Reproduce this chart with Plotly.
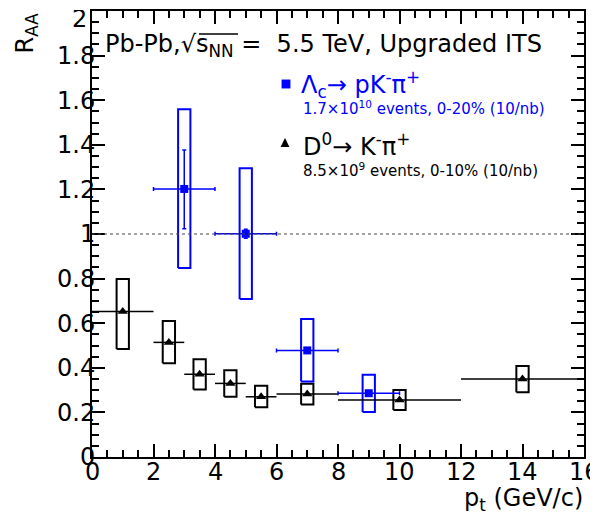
import plotly.graph_objects as go

# ---- data ----
d0_pt = [1, 2.5, 3.5, 4.5, 5.5, 7, 10, 14]
d0_pt_err = [1, 0.5, 0.5, 0.5, 0.5, 1, 2, 2]
d0_raa = [0.652, 0.514, 0.371, 0.33, 0.27, 0.282, 0.256, 0.35]
d0_sys_lo = [0.484, 0.42, 0.303, 0.27, 0.223, 0.235, 0.211, 0.29]
d0_sys_hi = [0.798, 0.61, 0.438, 0.389, 0.32, 0.329, 0.30, 0.408]

lc_pt = [3, 5, 7, 9]
lc_pt_err = [1, 1, 1, 1]
lc_raa = [1.202, 1.001, 0.478, 0.286]
lc_stat_hi = [0.175, 0.02, 0.01, 0.01]
lc_stat_lo = [0.178, 0.02, 0.01, 0.01]
lc_sys_lo = [0.847, 0.709, 0.339, 0.202]
lc_sys_hi = [1.559, 1.295, 0.619, 0.369]

x_ticks = [0, 2, 4, 6, 8, 10, 12, 14, 16]
x_ticktext = ["0", "2", "4", "6", "8", "10", "12", "14", "16"]
y_ticks = [0, 0.2, 0.4, 0.6, 0.8, 1, 1.2, 1.4, 1.6, 1.8, 2]
# top label "2" is drawn as an annotation (nudged down inside the page, as in the original)
y_ticktext = ["0", "0.2", "0.4", "0.6", "0.8", "1", "1.2", "1.4", "1.6", "1.8", ""]
y_top_label = "2"

BLUE = "#0000ff"
BLACK = "#000000"
FONT = "DejaVu Sans, Liberation Sans, Arial, sans-serif"
BOX_HW = 0.2


def box_path(xs, lo, hi, hw):
    px, py = [], []
    for x, l, h in zip(xs, lo, hi):
        px += [x - hw, x + hw, x + hw, x - hw, x - hw, None]
        py += [l, l, h, h, l, None]
    return px, py


fig = go.Figure()

# systematic boxes
bx, by = box_path(d0_pt, d0_sys_lo, d0_sys_hi, BOX_HW)
fig.add_trace(go.Scatter(x=bx, y=by, mode="lines", line=dict(color=BLACK, width=2),
                         hoverinfo="skip", showlegend=False))
bx, by = box_path(lc_pt, lc_sys_lo, lc_sys_hi, BOX_HW)
fig.add_trace(go.Scatter(x=bx, y=by, mode="lines", line=dict(color=BLUE, width=2),
                         hoverinfo="skip", showlegend=False))

# D0 points
fig.add_trace(go.Scatter(
    x=d0_pt, y=d0_raa, mode="markers",
    marker=dict(symbol="triangle-up", size=9, color=BLACK),
    error_x=dict(type="data", array=d0_pt_err, color=BLACK, thickness=1.5, width=0),
    showlegend=False))

# Lambda_c points
fig.add_trace(go.Scatter(
    x=lc_pt, y=lc_raa, mode="markers",
    marker=dict(symbol="square", size=8, color=BLUE),
    error_x=dict(type="data", array=lc_pt_err, color=BLUE, thickness=1.5, width=2),
    error_y=dict(type="data", symmetric=False, array=lc_stat_hi, arrayminus=lc_stat_lo,
                 color=BLUE, thickness=1.5, width=2),
    showlegend=False))

# dashed line at unity
fig.add_shape(type="line", xref="paper", yref="y", x0=0, x1=1, y0=1, y1=1,
              line=dict(color="#444444", width=1, dash="3px,3px"))

# legend keys (paper coords; plot area spans screen px 92..584 x 11..457)
def px2paper(px, py):
    return (px - 92) / 492, (457 - py) / 446

sx, sy = px2paper(286, 84)
fig.add_shape(type="rect", xref="paper", yref="paper",
              x0=sx - 0.009, x1=sx + 0.009, y0=sy - 0.01, y1=sy + 0.01,
              fillcolor=BLUE, line=dict(width=0))
tx, ty = px2paper(285, 143)
fig.add_shape(type="path", xref="paper", yref="paper",
              path=f"M {tx-0.009} {ty-0.009} L {tx+0.009} {ty-0.009} L {tx} {ty+0.011} Z",
              fillcolor=BLACK, line=dict(width=0))

# overline of the square root over s_NN
ox0, oy = px2paper(199, 34)
ox1, _ = px2paper(238, 34)
fig.add_shape(type="line", xref="paper", yref="paper", x0=ox0, x1=ox1, y0=oy, y1=oy,
              line=dict(color=BLACK, width=1.5))

ann = []
def add_text(text, px, py, size, color=BLACK, xanchor="left", **kw):
    x, y = px2paper(px, py)
    ann.append(dict(text=text, x=x, y=y, xref="paper", yref="paper", xanchor=xanchor,
                    yanchor="middle", showarrow=False, font=dict(size=size, color=color, family=FONT), **kw))

add_text("Pb-Pb,√s<sub>NN</sub> =  5.5 TeV, Upgraded ITS", 103, 45, 24)
add_text("Λ<sub>c</sub>→ pK<sup>-</sup>π<sup>+</sup>", 299, 84, 24, BLUE)
add_text("1.7×10<sup>10</sup> events, 0-20% (10/nb)", 301, 108, 15, BLUE)
add_text("D<sup>0</sup>→ K<sup>-</sup>π<sup>+</sup>", 301, 145, 24)
add_text("8.5×10<sup>9</sup> events, 0-10% (10/nb)", 301, 170, 15)
add_text("p<sub>t</sub> (GeV/c)", 585, 499, 24, xanchor="right")
add_text(y_top_label, 89, 19, 24, xanchor="right", height=18, valign="middle")
ann.append(dict(text="R<sub>AA</sub>", x=(26 - 92) / 492, y=1.0, xref="paper", yref="paper",
                xanchor="center", yanchor="top", textangle=-90, showarrow=False,
                font=dict(size=24, color=BLACK, family=FONT)))
# x tick labels placed at the tick values, just below the axis
for v, t in zip(x_ticks, x_ticktext):
    ann.append(dict(text=t, x=v, y=(457 - 472) / 446, xref="x", yref="paper",
                    xanchor="center", yanchor="middle", showarrow=False, height=20,
                    font=dict(size=24, color=BLACK, family=FONT)))
fig.update_layout(annotations=ann)

axis_common = dict(showgrid=False, zeroline=False, showline=True, linecolor=BLACK, linewidth=2,
                   mirror="allticks", ticks="inside", ticklen=13, tickwidth=1.5, tickcolor=BLACK,
                   automargin=False, ticklabeloverflow="allow",
                   tickfont=dict(size=24, color=BLACK, family=FONT))
fig.update_xaxes(range=[0, 16], tickvals=x_ticks, showticklabels=False,
                 minor=dict(ticks="inside", ticklen=7, tickwidth=1.5, tickcolor=BLACK, dtick=0.5,
                            showgrid=False),
                 **axis_common)
fig.update_yaxes(range=[0, 2], tickvals=y_ticks, ticktext=y_ticktext, ticklabelstandoff=-10,
                 minor=dict(ticks="inside", ticklen=7, tickwidth=1.5, tickcolor=BLACK, dtick=0.05,
                            showgrid=False),
                 **axis_common)

# page body has an 8px offset: margins compensate so the plot area lands at 92..584 x 11..457
fig.update_layout(width=598, height=519, margin=dict(l=84, r=22, t=3, b=70),
                  plot_bgcolor="white", paper_bgcolor="white", showlegend=False,
                  font=dict(family=FONT))

fig.write_html("out.html")
